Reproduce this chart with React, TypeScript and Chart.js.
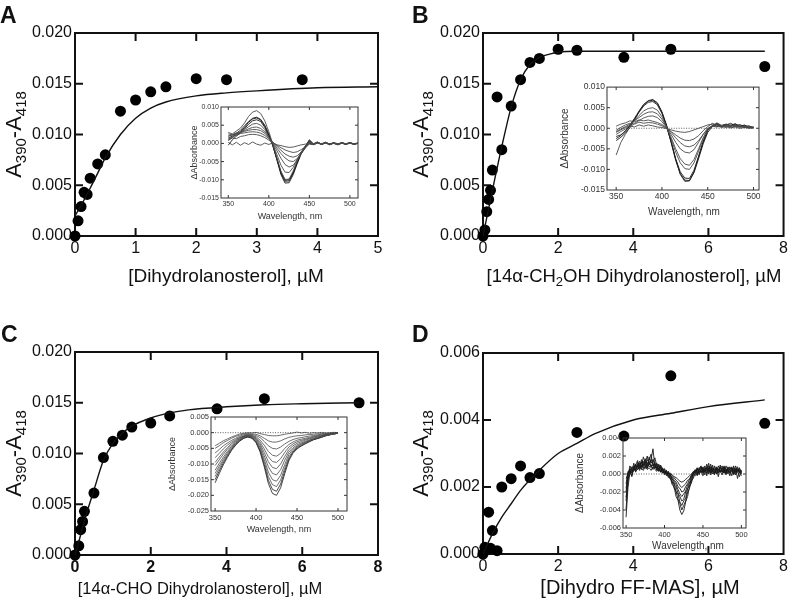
import React, { useEffect, useRef } from 'react';
import { Chart, registerables } from 'chart.js';

Chart.register(...registerables);

const FONT = '"Liberation Sans", Arial, Helvetica, sans-serif';
Chart.defaults.font.family = FONT;

// ---------------- main panel data ----------------
const A_CONC = [0, 0.05, 0.1, 0.15, 0.2, 0.25, 0.375, 0.5, 0.75, 1, 1.25, 1.5, 2, 2.5, 3.75];
const A_DABS = [0, 0.0015, 0.0029, 0.0043, 0.0041, 0.0057, 0.0071, 0.008, 0.0123, 0.0134, 0.0142, 0.0147, 0.0155, 0.0154, 0.0154];
const A_FIT_X = [0, 0.1, 0.25, 0.375, 0.5, 0.75, 1, 1.25, 1.5, 2, 2.5, 3, 4, 5];
const A_FIT_Y = [0.002, 0.003, 0.0047, 0.0062, 0.0077, 0.01, 0.0116, 0.0126, 0.0132, 0.0138, 0.0141, 0.0143, 0.0146, 0.0147];

const B_CONC = [0, 0.05, 0.1, 0.15, 0.2, 0.25, 0.375, 0.5, 0.75, 1, 1.25, 1.5, 2, 2.5, 3.75, 5, 7.5];
const B_DABS = [0, 0.0006, 0.0024, 0.0036, 0.0045, 0.0065, 0.0137, 0.0085, 0.0128, 0.0154, 0.0171, 0.0175, 0.0184, 0.0183, 0.0176, 0.0184, 0.0167];
const B_FIT_X = [0, 0.1, 0.25, 0.5, 0.75, 1, 1.25, 1.5, 1.75, 2, 2.5, 4, 7.5];
const B_FIT_Y = [0, 0.0018, 0.0045, 0.0088, 0.0127, 0.0154, 0.0169, 0.0176, 0.0179, 0.0181, 0.0182, 0.0182, 0.0182];

const C_CONC = [0, 0.1, 0.15, 0.2, 0.25, 0.5, 0.75, 1, 1.25, 1.5, 2, 2.5, 3.75, 5, 7.5];
const C_DABS = [0, 0.0009, 0.0025, 0.0033, 0.0043, 0.0061, 0.0096, 0.0112, 0.0118, 0.0126, 0.013, 0.0137, 0.0144, 0.0154, 0.015];
const C_FIT_X = [0, 0.1, 0.25, 0.5, 0.75, 1, 1.25, 1.5, 2, 2.5, 3, 4, 5, 6, 7.5];
const C_FIT_Y = [0, 0.0013, 0.0034, 0.0064, 0.0093, 0.011, 0.012, 0.0127, 0.0135, 0.014, 0.0143, 0.0146, 0.0148, 0.0149, 0.015];

const D_CONC = [0, 0.05, 0.15, 0.2, 0.25, 0.375, 0.5, 0.75, 1, 1.25, 1.5, 2.5, 3.75, 5, 7.5];
const D_DABS = [0, 0.0002, 0.00125, 0.00017, 0.0007, 0.0001, 0.002, 0.00225, 0.00263, 0.00228, 0.0024, 0.00363, 0.00352, 0.00532, 0.0039];
const D_FIT_X = [0, 0.25, 0.5, 0.75, 1, 1.5, 2, 2.5, 3, 4, 5, 6, 7.5];
const D_FIT_Y = [0, 0.0006, 0.0011, 0.0015, 0.0019, 0.0025, 0.003, 0.0033, 0.0036, 0.004, 0.0042, 0.0044, 0.0046];

// ---------------- inset spectra (milli-absorbance) ----------------
const WL_A = [350, 355, 360, 365, 370, 375, 380, 385, 390, 395, 400, 405, 410, 415, 420, 425, 430, 435, 440, 445, 450, 455, 460, 465, 470, 475, 480, 485, 490, 495, 500, 505, 510];
const WL = [350, 355, 360, 365, 370, 375, 380, 385, 390, 395, 400, 405, 410, 415, 420, 425, 430, 435, 440, 445, 450, 455, 460, 465, 470, 475, 480, 485, 490, 495, 500];
const WL_D = [350, 352.5, 355, 357.5, 360, 362.5, 365, 367.5, 370, 372.5, 375, 377.5, 380, 382.5, 385, 387.5, 390, 392.5, 395, 397.5,
  400, 402.5, 405, 407.5, 410, 412.5, 415, 417.5, 420, 422.5, 425, 427.5, 430, 432.5, 435, 437.5, 440, 442.5, 445, 447.5,
  450, 452.5, 455, 457.5, 460, 462.5, 465, 467.5, 470, 472.5, 475, 477.5, 480, 482.5, 485, 487.5, 490, 492.5, 495, 497.5, 500];

const A_T0 = [0.3, -0.4, 0.3, -0.5, 0.2, -0.3, 0.4, -0.2, -0.5, 0.1, -0.3, 0.2, -0.4, -0.6, -0.9, -1.1, -1.0, -0.7, -0.4, -0.2, 0.1, -0.2, 0.2, -0.3, 0.1, -0.2, 0.2, -0.1, 0.1, -0.2, 0.1, -0.1, 0.0];
const A_T1 = [3.0, 2.6, 3.4, 4.2, 5.6, 7.4, 8.6, 9.0, 8.2, 6.2, 3.2, -0.2, -4.0, -7.6, -9.9, -9.8, -7.6, -4.8, -2.4, -0.9, 0.4, -0.2, 0.3, -0.3, 0.2, -0.2, 0.1, -0.3, 0.2, -0.1, 0.1, -0.3, 0.0];
const A_T2 = [1.5, 2.0, 2.8, 3.6, 4.8, 6.0, 6.9, 7.2, 6.6, 5.0, 2.6, -0.6, -4.6, -8.6, -10.9, -10.8, -8.6, -5.6, -2.8, -1.0, 0.8, -0.4, 0.2, -0.3, 0.3, -0.2, 0.0, -0.3, 0.2, -0.2, 0.1, -0.2, 0.1];
const A_T3 = [0.8, 1.6, 2.4, 3.2, 4.4, 5.8, 6.7, 7.0, 6.4, 4.7, 2.3, -0.6, -4.3, -8.2, -10.4, -10.3, -8.2, -5.3, -2.6, -0.8, 1.0, -0.1, 0.4, -0.2, 0.2, -0.4, 0.1, -0.2, 0.1, -0.3, 0.2, -0.1, 0.0];
const A_T4 = [-0.5, 1.0, 2.0, 2.9, 4.0, 5.3, 6.2, 6.5, 6.0, 4.4, 2.0, -0.7, -4.3, -8.0, -10.1, -10.0, -8.0, -5.1, -2.5, -0.8, 0.5, -0.3, 0.1, -0.1, 0.3, -0.2, 0.2, -0.4, 0.0, -0.2, 0.2, -0.2, 0.1];
const A_T5 = [1.2, 1.8, 2.4, 3.0, 3.8, 4.6, 5.3, 5.5, 5.0, 3.8, 1.9, -0.3, -3.1, -6.0, -7.9, -8.0, -6.6, -4.4, -2.3, -0.8, 0.4, -0.1, 0.2, -0.3, 0.1, -0.2, 0.2, -0.1, 0.1, -0.2, 0.0, -0.2, 0.1];
const A_T6 = [2.0, 2.3, 2.7, 3.0, 3.5, 4.0, 4.4, 4.5, 4.1, 3.2, 1.7, 0.0, -2.0, -4.1, -5.8, -6.5, -6.0, -4.6, -2.8, -1.2, 0.2, -0.2, 0.3, -0.2, 0.1, -0.3, 0.1, -0.2, 0.2, -0.1, 0.1, -0.2, 0.0];
const A_T7 = [2.6, 2.4, 2.9, 3.0, 3.3, 3.6, 3.8, 3.8, 3.5, 2.8, 1.6, 0.2, -1.3, -2.8, -4.0, -4.8, -5.0, -4.2, -2.8, -1.3, 0.0, -0.3, 0.2, -0.2, 0.2, -0.2, 0.0, -0.3, 0.1, -0.1, 0.2, -0.2, 0.1];
const A_T8 = [2.0, 2.4, 2.2, 2.7, 2.9, 3.1, 3.2, 3.1, 2.8, 2.2, 1.3, 0.3, -0.8, -1.9, -2.9, -3.5, -3.8, -3.4, -2.4, -1.2, -0.1, -0.3, 0.2, -0.1, 0.1, -0.3, 0.1, -0.2, 0.2, -0.2, 0.1, -0.1, 0.0];
const A_T9 = [1.0, 1.5, 1.3, 1.9, 2.1, 2.4, 2.5, 2.4, 2.1, 1.6, 0.9, 0.2, -0.5, -1.2, -1.8, -2.2, -2.5, -2.3, -1.7, -0.9, -0.2, -0.3, 0.1, -0.2, 0.2, -0.2, 0.1, -0.3, 0.1, -0.1, 0.2, -0.2, 0.0];

const B_T1 = [-3.0, -2.2, -1.2, 0.2, 2.0, 4.0, 5.7, 6.7, 7.0, 6.2, 4.0, 0.8, -3.2, -7.5, -11.2, -12.9, -12.8, -10.8, -7.4, -3.8, -1.0, 0.4, 0.9, 0.6, 1.0, 0.7, 1.1, 0.5, 0.7, 0.3, 0.2];
const B_T2 = [-2.5, -1.8, -0.6, 0.8, 2.4, 4.2, 5.8, 6.6, 6.8, 6.0, 3.8, 0.6, -3.4, -7.8, -11.0, -12.6, -12.7, -10.6, -7.0, -3.4, -0.6, 0.7, 1.1, 0.4, 0.8, 1.2, 0.6, 0.9, 0.4, 0.6, 0.1];
const B_T3 = [-2.0, -1.6, -0.8, 0.6, 2.2, 3.9, 5.4, 6.3, 6.5, 5.7, 3.6, 0.5, -3.3, -7.4, -10.6, -12.1, -12.2, -10.2, -6.8, -3.2, -0.4, 0.5, 1.3, 0.7, 0.9, 0.5, 1.0, 0.4, 0.8, 0.2, 0.3];
const B_T4 = [-1.5, -0.8, -0.2, 0.8, 1.9, 3.1, 4.2, 4.8, 5.0, 4.4, 2.8, 0.4, -2.6, -5.8, -8.4, -9.8, -10.0, -8.4, -5.6, -2.6, -0.3, 0.6, 0.8, 0.5, 1.0, 0.6, 0.8, 0.3, 0.6, 0.2, 0.2];
const B_T5 = [-0.8, -0.2, 0.4, 1.0, 1.8, 2.6, 3.4, 3.9, 4.0, 3.5, 2.2, 0.3, -2.2, -5.0, -7.4, -8.7, -9.0, -7.6, -5.0, -2.3, -0.2, 0.5, 0.9, 0.3, 0.7, 0.4, 0.8, 0.3, 0.5, 0.1, 0.3];
const B_T6 = [-6.5, -3.5, -1.5, 0.2, 1.2, 1.9, 2.5, 2.9, 3.0, 2.6, 1.6, 0.2, -1.5, -3.4, -5.0, -5.8, -6.0, -5.2, -3.4, -1.5, 0.0, 0.6, 0.4, 0.7, 0.3, 0.8, 0.5, 0.6, 0.2, 0.4, 0.1];
const B_T7 = [0.5, 1.0, 1.3, 1.8, 1.6, 2.0, 1.8, 2.0, 1.7, 1.4, 0.9, 0.1, -1.0, -2.3, -3.5, -4.3, -4.5, -4.1, -3.0, -1.5, -0.2, 0.5, 0.3, 0.6, 0.2, 0.7, 0.4, 0.5, 0.2, 0.3, 0.0];
const B_T8 = [-0.5, 0.2, 0.8, 1.2, 1.0, 1.5, 1.2, 1.4, 1.3, 1.0, 0.6, 0.0, -0.8, -1.6, -2.4, -2.9, -3.0, -2.6, -1.8, -0.6, 0.4, 1.2, 0.8, 0.4, 0.6, 0.2, 0.5, 0.3, 0.4, 0.1, 0.2];
const B_T9 = [-1.0, -0.4, 0.2, 0.6, 0.3, 0.8, 0.5, 0.8, 0.6, 0.3, 0.2, -0.1, -0.4, -0.7, -0.9, -1.0, -0.8, -0.4, 0.0, 0.4, 0.8, 1.0, 0.6, 0.2, 0.4, 0.1, 0.3, 0.0, 0.2, 0.0, 0.1];

const C_T1 = [-4.2, -3.4, -2.6, -2.0, -1.4, -0.9, -0.4, -0.2, 0.0, -0.1, 0.1, -0.3, -0.6, -0.9, -1.0, -1.0, -0.8, -0.5, -0.3, -0.1, 0.2, -0.1, 0.1, -0.2, 0.0, -0.1, 0.1, -0.1, 0.0, 0.1, 0.0];
const C_T2 = [-5.0, -4.2, -3.2, -2.5, -1.8, -1.2, -0.8, -0.4, -0.3, -0.4, -0.5, -1.0, -1.8, -2.6, -3.0, -3.0, -2.6, -2.0, -1.5, -1.2, -1.0, -0.9, -0.7, -0.6, -0.5, -0.4, -0.3, -0.3, -0.2, -0.1, 0.0];
const C_T3 = [-6.5, -5.4, -4.2, -3.3, -2.5, -1.8, -1.2, -0.7, -0.5, -0.6, -0.9, -1.6, -2.8, -4.2, -5.0, -5.2, -4.6, -3.6, -2.8, -2.2, -1.8, -1.6, -1.3, -1.1, -0.9, -0.7, -0.5, -0.4, -0.3, -0.2, -0.1];
const C_T4 = [-8.0, -6.6, -5.2, -4.0, -3.0, -2.2, -1.5, -1.0, -0.7, -0.9, -1.3, -2.4, -4.0, -6.0, -7.2, -7.5, -6.6, -5.0, -3.8, -3.0, -2.4, -2.1, -1.8, -1.5, -1.2, -0.9, -0.7, -0.5, -0.4, -0.2, -0.1];
const C_T5 = [-9.5, -7.8, -6.2, -4.8, -3.5, -2.5, -1.7, -1.1, -0.8, -1.0, -1.6, -3.0, -5.2, -7.7, -9.2, -9.5, -8.3, -6.3, -4.6, -3.6, -2.9, -2.5, -2.1, -1.8, -1.4, -1.1, -0.9, -0.6, -0.5, -0.3, -0.1];
const C_T6 = [-10.5, -8.7, -6.9, -5.3, -3.9, -2.8, -1.9, -1.2, -0.9, -1.2, -1.9, -3.6, -6.3, -9.3, -11.1, -11.5, -10.0, -7.6, -5.4, -4.2, -3.4, -2.9, -2.4, -2.0, -1.6, -1.3, -1.0, -0.7, -0.5, -0.3, -0.1];
const C_T7 = [-12.0, -9.8, -7.8, -6.0, -4.4, -3.1, -2.1, -1.3, -1.0, -1.3, -2.2, -4.2, -7.4, -10.9, -13.0, -13.5, -11.8, -8.8, -6.2, -4.8, -3.9, -3.3, -2.8, -2.3, -1.9, -1.5, -1.1, -0.8, -0.6, -0.4, -0.1];
const C_T8 = [-13.0, -10.7, -8.5, -6.5, -4.8, -3.4, -2.3, -1.5, -1.1, -1.5, -2.5, -4.8, -8.5, -12.6, -15.0, -15.5, -13.6, -10.2, -7.0, -5.3, -4.3, -3.6, -3.0, -2.5, -2.0, -1.6, -1.2, -0.9, -0.6, -0.4, -0.2];
const C_T9 = [-14.0, -11.5, -9.1, -7.0, -5.1, -3.6, -2.4, -1.6, -1.2, -1.6, -2.8, -5.3, -9.4, -14.0, -16.6, -17.2, -15.1, -11.3, -7.8, -5.8, -4.6, -3.8, -3.2, -2.6, -2.1, -1.7, -1.3, -0.9, -0.6, -0.4, -0.2];
const C_T10 = [-15.0, -12.3, -9.7, -7.4, -5.4, -3.8, -2.6, -1.7, -1.3, -1.7, -3.0, -5.8, -10.2, -15.2, -18.1, -18.7, -16.4, -12.2, -8.4, -6.2, -4.9, -4.1, -3.4, -2.8, -2.2, -1.8, -1.4, -1.0, -0.7, -0.4, -0.2];
const C_T11 = [-16.0, -13.1, -10.3, -7.9, -5.7, -4.0, -2.7, -1.8, -1.4, -1.8, -3.2, -6.2, -10.9, -16.2, -19.4, -20.0, -17.6, -13.1, -9.0, -6.6, -5.2, -4.3, -3.6, -2.9, -2.3, -1.9, -1.5, -1.0, -0.7, -0.4, -0.2];

const D_T1 = [-4.8, -1.5, 0.2, -0.3, 0.8, 0.4, 1.1, 0.6, 1.6, 1.0, 1.7, 1.1, 1.5, 2.2, 0.9, 1.3, 0.6, 1.0, 0.2, 0.6,
  -0.1, 0.3, -0.4, -0.4, -1.2, -1.4, -2.5, -2.9, -4.0, -4.5, -4.1, -3.1, -2.5, -1.4, -1.0, -0.2, 0.1, 0.6, -0.1, 0.8,
  0.2, 0.9, -0.2, 0.7, 0.3, 1.0, 0.0, 0.6, -0.3, 0.8, 0.2, 0.9, 0.1, 0.5, -0.2, 0.7, 0.1, 0.6, -0.5, 0.4, -0.2];
const D_T2 = [-3.9, -0.8, 0.5, 0.1, 1.2, 0.5, 0.9, 1.4, 0.8, 1.9, 1.2, 2.0, 1.0, 1.6, 2.8, 0.8, 1.1, 0.3, 0.8, 0.1,
  0.5, -0.2, 0.1, -0.6, -0.8, -1.6, -1.9, -2.8, -3.3, -4.0, -3.5, -3.0, -2.0, -1.6, -0.7, -0.5, 0.3, -0.2, 0.7, 0.1,
  0.8, 0.3, 1.1, 0.0, 0.6, 0.2, 0.9, 0.4, 0.1, 1.0, 0.3, 0.5, -0.1, 0.8, 0.4, 0.2, 0.9, -0.1, 0.5, 0.6, 0.2];
const D_T3 = [-3.0, -0.3, 0.9, 0.4, 0.3, 1.0, 1.5, 0.7, 1.3, 0.9, 1.5, 0.8, 1.9, 1.2, 1.6, 1.0, 0.4, 1.1, 0.5, 0.2,
  0.2, 0.4, -0.3, -0.1, -1.0, -1.0, -2.0, -2.2, -3.1, -3.5, -3.0, -2.7, -1.6, -1.3, -0.5, 0.0, -0.2, 0.5, 0.3, 0.4,
  -0.2, 0.6, 0.5, 1.2, -0.1, 0.5, 0.7, 0.1, 0.6, 0.3, -0.1, 0.7, 0.6, 0.0, 0.8, 0.4, 0.2, 0.9, 0.3, -0.3, 0.4];
const D_T4 = [-2.6, -0.5, 0.0, 0.7, 0.9, 0.2, 1.3, 1.0, 0.6, 1.4, 0.9, 1.6, 1.3, 0.7, 1.4, 1.8, 0.9, 0.5, 1.0, 0.3,
  0.6, 0.0, 0.2, -0.5, -0.5, -1.2, -1.4, -2.1, -2.5, -3.0, -2.8, -2.0, -1.7, -0.9, -0.8, 0.1, 0.4, -0.1, 0.6, 0.9,
  0.1, 0.4, 0.7, 0.2, 1.1, 0.3, -0.1, 0.8, 0.5, 0.2, 0.7, 0.1, 0.9, 0.4, 0.3, -0.2, 0.6, 0.3, 0.8, 0.1, 0.3];
const D_T5 = [-2.0, -0.1, 0.4, -0.2, 0.6, 1.1, 0.5, 0.9, 1.4, 0.6, 1.3, 0.7, 1.1, 1.6, 1.2, 0.6, 1.2, 0.7, 0.3, 0.7,
  0.0, 0.3, -0.2, 0.0, -0.6, -0.8, -1.2, -1.7, -2.2, -2.5, -2.2, -1.9, -1.2, -1.0, -0.3, 0.2, 0.1, 0.7, 0.2, 0.5,
  0.6, -0.1, 0.8, 0.4, 0.2, 0.7, 0.5, 0.0, 0.9, 0.4, 0.2, 0.6, 0.0, 0.7, 0.5, 0.8, -0.1, 0.4, 0.2, 0.7, 0.0];
const D_T6 = [-1.6, 0.1, 0.6, 0.3, 0.4, 0.9, 0.7, 1.2, 0.5, 1.1, 1.0, 0.6, 1.4, 0.9, 1.0, 0.7, 0.8, 0.3, 0.9, 0.4,
  0.3, -0.1, 0.3, -0.2, -0.3, -0.7, -0.9, -1.4, -1.6, -2.0, -1.9, -1.4, -1.1, -0.6, -0.2, 0.0, 0.5, 0.2, 0.4, 0.8,
  0.3, 0.5, 0.1, 0.9, 0.6, 0.0, 0.4, 0.7, 0.3, 0.6, 0.9, 0.2, 0.4, 0.6, 0.1, 0.5, 0.7, 0.2, 0.6, 0.3, 0.4];
const D_T7 = [-1.1, 0.3, 0.2, 0.8, 0.5, 0.6, 1.0, 0.4, 1.0, 0.8, 0.6, 1.2, 0.8, 1.0, 0.5, 1.1, 0.5, 0.6, 0.2, 0.6,
  0.1, 0.4, 0.0, 0.1, -0.2, -0.4, -0.7, -0.9, -1.3, -1.5, -1.3, -1.1, -0.7, -0.6, -0.1, 0.3, 0.2, 0.6, 0.0, 0.4,
  0.7, 0.2, 0.5, 0.3, 0.8, 0.4, 0.1, 0.6, 0.5, 0.2, 0.5, 0.8, 0.3, 0.2, 0.6, 0.4, 0.0, 0.6, 0.4, 0.5, 0.1];
const D_T8 = [-0.5, 0.0, 0.4, 0.2, 0.7, 0.3, 0.5, 0.8, 0.6, 0.4, 0.9, 0.5, 0.7, 0.4, 0.8, 0.5, 0.3, 0.6, 0.4, 0.1,
  0.3, 0.1, 0.2, 0.0, -0.1, -0.3, -0.4, -0.6, -0.8, -0.9, -0.8, -0.6, -0.4, -0.2, 0.0, 0.2, 0.4, 0.1, 0.5, 0.3,
  0.2, 0.6, 0.3, 0.4, 0.1, 0.6, 0.3, 0.5, 0.2, 0.4, 0.3, 0.1, 0.5, 0.4, 0.2, 0.6, 0.3, 0.1, 0.4, 0.2, 0.3];

// ---------------- text ----------------
type Seg = { t: string; sub?: boolean };
const Y_TITLE: Seg[] = [{ t: 'A' }, { t: '390', sub: true }, { t: '-A' }, { t: '418', sub: true }];
const X_TITLE_A: Seg[] = [{ t: '[Dihydrolanosterol], µM' }];
const X_TITLE_B: Seg[] = [{ t: '[14α-CH' }, { t: '2', sub: true }, { t: 'OH Dihydrolanosterol], µM' }];
const X_TITLE_C: Seg[] = [{ t: '[14α-CHO Dihydrolanosterol], µM' }];
const X_TITLE_D: Seg[] = [{ t: '[Dihydro FF-MAS], µM' }];

function drawRich(ctx: CanvasRenderingContext2D, segs: Seg[], x: number, y: number, size: number, subSize: number, subDrop: number, align: 'center' | 'left', weight = 'normal') {
  const fMain = `${weight} ${size}px ${FONT}`;
  const fSub = `${weight} ${subSize}px ${FONT}`;
  let w = 0;
  for (const s of segs) {
    ctx.font = s.sub ? fSub : fMain;
    w += ctx.measureText(s.t).width;
  }
  let cx = align === 'center' ? x - w / 2 : x;
  ctx.textAlign = 'left';
  ctx.textBaseline = 'alphabetic';
  for (const s of segs) {
    ctx.font = s.sub ? fSub : fMain;
    ctx.fillText(s.t, cx, s.sub ? y + subDrop : y);
    cx += ctx.measureText(s.t).width;
  }
}

interface PanelCfg {
  left: number; top: number; width: number; height: number;
  plot: [number, number, number, number];
  xMax: number; xStep: number; yMax: number; yStep: number;
  xs: number[]; ys: number[]; fitX: number[]; fitY: number[];
  letter: string; letterX: number; letterY: number;
  xTitle: Seg[]; xTitleX: number; xTitleY: number; xTitleSize: number;
  yTitleX: number; boldX?: boolean;
}

const PANELS: PanelCfg[] = [
  { left: 0, top: 0, width: 395, height: 300, plot: [75, 33, 378, 236], xMax: 5, xStep: 1, yMax: 0.02, yStep: 0.005,
    xs: A_CONC, ys: A_DABS, fitX: A_FIT_X, fitY: A_FIT_Y, letter: 'A', letterX: 0, letterY: 23,
    xTitle: X_TITLE_A, xTitleX: 226, xTitleY: 282, xTitleSize: 19, yTitleX: 21 },
  { left: 395, top: 0, width: 396, height: 300, plot: [483, 33, 785, 236], xMax: 8, xStep: 2, yMax: 0.02, yStep: 0.005,
    xs: B_CONC, ys: B_DABS, fitX: B_FIT_X, fitY: B_FIT_Y, letter: 'B', letterX: 412, letterY: 23,
    xTitle: X_TITLE_B, xTitleX: 634, xTitleY: 282, xTitleSize: 18.5, yTitleX: 428 },
  { left: 0, top: 300, width: 395, height: 308, plot: [75, 352, 378, 555], xMax: 8, xStep: 2, yMax: 0.02, yStep: 0.005,
    xs: C_CONC, ys: C_DABS, fitX: C_FIT_X, fitY: C_FIT_Y, letter: 'C', letterX: 1, letterY: 342,
    xTitle: X_TITLE_C, xTitleX: 200, xTitleY: 594, xTitleSize: 16.5, yTitleX: 21, boldX: true },
  { left: 395, top: 300, width: 396, height: 308, plot: [483, 353, 785, 554], xMax: 8, xStep: 2, yMax: 0.006, yStep: 0.002,
    xs: D_CONC, ys: D_DABS, fitX: D_FIT_X, fitY: D_FIT_Y, letter: 'D', letterX: 412, letterY: 342,
    xTitle: X_TITLE_D, xTitleX: 640, xTitleY: 594, xTitleSize: 20, yTitleX: 428 },
];

interface InsetCfg {
  left: number; top: number; width: number; height: number;
  box: [number, number, number, number];
  xMin: number; xMax: number; yMin: number; yMax: number; yStep: number;
  wl: number[]; traces: number[][]; colors: string[]; zero: boolean; lineW: number;
  tickSize: number; titleSize: number; yTitleX: number; xTitleX: number; xTitleY: number;
}

const DARK = '#1a1a1a';
const MID = '#4a4a4a';

const INSETS: InsetCfg[] = [
  { left: 185, top: 100, width: 180, height: 125, box: [221, 107, 358, 198], xMin: 341, xMax: 510, yMin: -15, yMax: 10, yStep: 5,
    wl: WL_A, traces: [A_T0, A_T9, A_T8, A_T7, A_T6, A_T5, A_T1, A_T4, A_T3, A_T2],
    colors: [MID, MID, MID, MID, MID, MID, MID, DARK, DARK, DARK], zero: false, lineW: 0.9,
    tickSize: 7, titleSize: 9, yTitleX: 195, xTitleX: 290, xTitleY: 217 },
  { left: 558, top: 80, width: 208, height: 140, box: [607, 87, 759, 190], xMin: 340, xMax: 506, yMin: -15, yMax: 10, yStep: 5,
    wl: WL, traces: [B_T9, B_T8, B_T7, B_T6, B_T5, B_T4, B_T3, B_T2, B_T1],
    colors: [MID, MID, MID, MID, MID, MID, DARK, DARK, DARK], zero: true, lineW: 0.9,
    tickSize: 8.5, titleSize: 10, yTitleX: 565, xTitleX: 684, xTitleY: 212 },
  { left: 165, top: 410, width: 190, height: 128, box: [211, 417, 347, 511], xMin: 345, xMax: 511, yMin: -25, yMax: 5, yStep: 5,
    wl: WL, traces: [C_T1, C_T2, C_T3, C_T4, C_T5, C_T6, C_T7, C_T8, C_T9, C_T10, C_T11],
    colors: [MID, MID, MID, MID, MID, MID, MID, MID, MID, DARK, DARK], zero: true, lineW: 0.8,
    tickSize: 7.5, titleSize: 9, yTitleX: 173, xTitleX: 279, xTitleY: 530 },
  { left: 572, top: 431, width: 182, height: 122, box: [623, 438, 746, 528], xMin: 346, xMax: 506, yMin: -6, yMax: 4, yStep: 2,
    wl: WL_D, traces: [D_T8, D_T7, D_T6, D_T5, D_T4, D_T3, D_T2, D_T1],
    colors: [DARK, DARK, DARK, DARK, DARK, DARK, DARK, DARK], zero: true, lineW: 0.9,
    tickSize: 7.5, titleSize: 10, yTitleX: 580, xTitleX: 688, xTitleY: 546 },
];

function makeFrame(lineW: number, tickW: number, tickLen: number, color: string, after?: (ctx: CanvasRenderingContext2D) => void) {
  return {
    id: 'frame',
    beforeDatasetsDraw(chart: any) {
      const { ctx, chartArea: a, scales } = chart;
      ctx.save();
      ctx.strokeStyle = color;
      ctx.lineWidth = tickW;
      ctx.beginPath();
      for (const t of scales.x.ticks) {
        const px = scales.x.getPixelForValue(t.value);
        if (px < a.left + 2 || px > a.right - 2) continue;
        ctx.moveTo(px, a.bottom); ctx.lineTo(px, a.bottom - tickLen);
        ctx.moveTo(px, a.top); ctx.lineTo(px, a.top + tickLen);
      }
      for (const t of scales.y.ticks) {
        const py = scales.y.getPixelForValue(t.value);
        if (py < a.top + 2 || py > a.bottom - 2) continue;
        ctx.moveTo(a.left, py); ctx.lineTo(a.left + tickLen, py);
        ctx.moveTo(a.right, py); ctx.lineTo(a.right - tickLen, py);
      }
      ctx.stroke();
      ctx.lineWidth = lineW;
      ctx.strokeRect(a.left, a.top, a.right - a.left, a.bottom - a.top);
      ctx.restore();
    },
    afterDraw(chart: any) {
      if (!after) return;
      const ctx = chart.ctx as CanvasRenderingContext2D;
      ctx.save();
      after(ctx);
      ctx.restore();
    },
  };
}

const MainPanel: React.FC<{ cfg: PanelCfg }> = ({ cfg }) => {
  const ref = useRef<HTMLCanvasElement>(null);
  useEffect(() => {
    const L = cfg.left, T = cfg.top;
    const pl = cfg.plot[0] - L, pt = cfg.plot[1] - T, pr = cfg.plot[2] - L, pb = cfg.plot[3] - T;
    const frame = makeFrame(2, 2, 8, '#111', (ctx) => {
      ctx.fillStyle = '#111';
      ctx.font = `bold 23px ${FONT}`;
      ctx.textAlign = 'left';
      ctx.textBaseline = 'alphabetic';
      ctx.fillText(cfg.letter, cfg.letterX - L, cfg.letterY - T);
      drawRich(ctx, cfg.xTitle, cfg.xTitleX - L, cfg.xTitleY - T, cfg.xTitleSize, 13, 4, 'center');
      ctx.translate(cfg.yTitleX - L, (pt + pb) / 2);
      ctx.rotate(-Math.PI / 2);
      drawRich(ctx, Y_TITLE, 0, 0, 22, 15, 5, 'center');
    });
    const chart = new Chart(ref.current as HTMLCanvasElement, {
      type: 'scatter',
      data: {
        datasets: [
          {
            type: 'line',
            data: cfg.fitX.map((x, i) => ({ x, y: cfg.fitY[i] })),
            borderColor: '#111', borderWidth: 1.4, pointRadius: 0,
            cubicInterpolationMode: 'monotone', fill: false,
          } as any,
          {
            type: 'scatter',
            data: cfg.xs.map((x, i) => ({ x, y: cfg.ys[i] })),
            backgroundColor: '#000', borderColor: '#000', borderWidth: 0,
            pointRadius: 5.5, clip: false,
          } as any,
        ],
      },
      options: {
        responsive: false, animation: false, events: [],
        layout: { padding: { left: 0, top: pt, right: cfg.width - pr, bottom: 0 } },
        plugins: { legend: { display: false }, tooltip: { enabled: false } },
        scales: {
          x: {
            type: 'linear', min: 0, max: cfg.xMax,
            ticks: { stepSize: cfg.xStep, color: '#111', padding: 3, maxRotation: 0, autoSkip: false,
              font: { family: FONT, size: 16, weight: cfg.boldX ? 'bold' : 'normal' } as any,
              callback: (v: any) => String(v) },
            grid: { display: false, drawTicks: false }, border: { display: false },
            afterFit: (s: any) => { s.height = cfg.height - pb; },
          },
          y: {
            type: 'linear', min: 0, max: cfg.yMax,
            ticks: { stepSize: cfg.yStep, color: '#111', padding: 3, font: { family: FONT, size: 16 },
              callback: (v: any) => Number(v).toFixed(3) },
            grid: { display: false, drawTicks: false }, border: { display: false },
            afterFit: (s: any) => { s.width = pl; },
          },
        },
      },
      plugins: [frame],
    } as any);
    return () => chart.destroy();
  }, []);
  return (
    <canvas ref={ref} width={cfg.width} height={cfg.height}
      style={{ position: 'absolute', left: cfg.left, top: cfg.top, width: cfg.width, height: cfg.height }} />
  );
};

const InsetPanel: React.FC<{ cfg: InsetCfg }> = ({ cfg }) => {
  const ref = useRef<HTMLCanvasElement>(null);
  useEffect(() => {
    const L = cfg.left, T = cfg.top;
    const [bl, bt, br, bb] = [cfg.box[0] - L, cfg.box[1] - T, cfg.box[2] - L, cfg.box[3] - T];
    const frame = makeFrame(1, 1, 3, '#333', (ctx) => {
      ctx.fillStyle = '#333';
      ctx.font = `${cfg.titleSize}px ${FONT}`;
      ctx.textAlign = 'center';
      ctx.textBaseline = 'middle';
      ctx.fillText('Wavelength, nm', cfg.xTitleX - L, cfg.xTitleY - T);
      ctx.translate(cfg.yTitleX - L, (bt + bb) / 2);
      ctx.rotate(-Math.PI / 2);
      ctx.fillText('ΔAbsorbance', 0, 0);
    });
    const datasets: any[] = cfg.traces.map((tr, k) => ({
      type: 'line',
      data: cfg.wl.map((w, i) => ({ x: w, y: tr[i] })),
      borderColor: cfg.colors[k], borderWidth: cfg.lineW, pointRadius: 0, tension: 0, fill: false,
    }));
    if (cfg.zero) {
      datasets.unshift({
        type: 'line', data: [{ x: 350, y: 0 }, { x: 500, y: 0 }],
        borderColor: '#333', borderWidth: 0.8, borderDash: [1, 1.5], pointRadius: 0, fill: false,
      });
    }
    const chart = new Chart(ref.current as HTMLCanvasElement, {
      type: 'scatter',
      data: { datasets },
      options: {
        responsive: false, animation: false, events: [],
        layout: { padding: { left: 0, top: bt, right: cfg.width - br, bottom: 0 } },
        plugins: { legend: { display: false }, tooltip: { enabled: false } },
        scales: {
          x: {
            type: 'linear', min: cfg.xMin, max: cfg.xMax,
            ticks: { stepSize: 50, includeBounds: false, color: '#333', padding: 2, maxRotation: 0, autoSkip: false,
              font: { family: FONT, size: cfg.tickSize }, callback: (v: any) => String(v) },
            grid: { display: false, drawTicks: false }, border: { display: false },
            afterFit: (s: any) => { s.height = cfg.height - bb; },
          },
          y: {
            type: 'linear', min: cfg.yMin, max: cfg.yMax,
            ticks: { stepSize: cfg.yStep, color: '#333', padding: 2, autoSkip: false,
              font: { family: FONT, size: cfg.tickSize }, callback: (v: any) => (Number(v) / 1000).toFixed(3) },
            grid: { display: false, drawTicks: false }, border: { display: false },
            afterFit: (s: any) => { s.width = bl; },
          },
        },
      },
      plugins: [frame],
    } as any);
    return () => chart.destroy();
  }, []);
  return (
    <canvas ref={ref} width={cfg.width} height={cfg.height}
      style={{ position: 'absolute', left: cfg.left, top: cfg.top, width: cfg.width, height: cfg.height }} />
  );
};

export default function App() {
  return (
    <div style={{ position: 'absolute', left: 0, top: 0, width: 791, height: 608, background: '#fff', overflow: 'hidden' }}>
      {PANELS.map((p, i) => <MainPanel key={'p' + i} cfg={p} />)}
      {INSETS.map((c, i) => <InsetPanel key={'i' + i} cfg={c} />)}
    </div>
  );
}
